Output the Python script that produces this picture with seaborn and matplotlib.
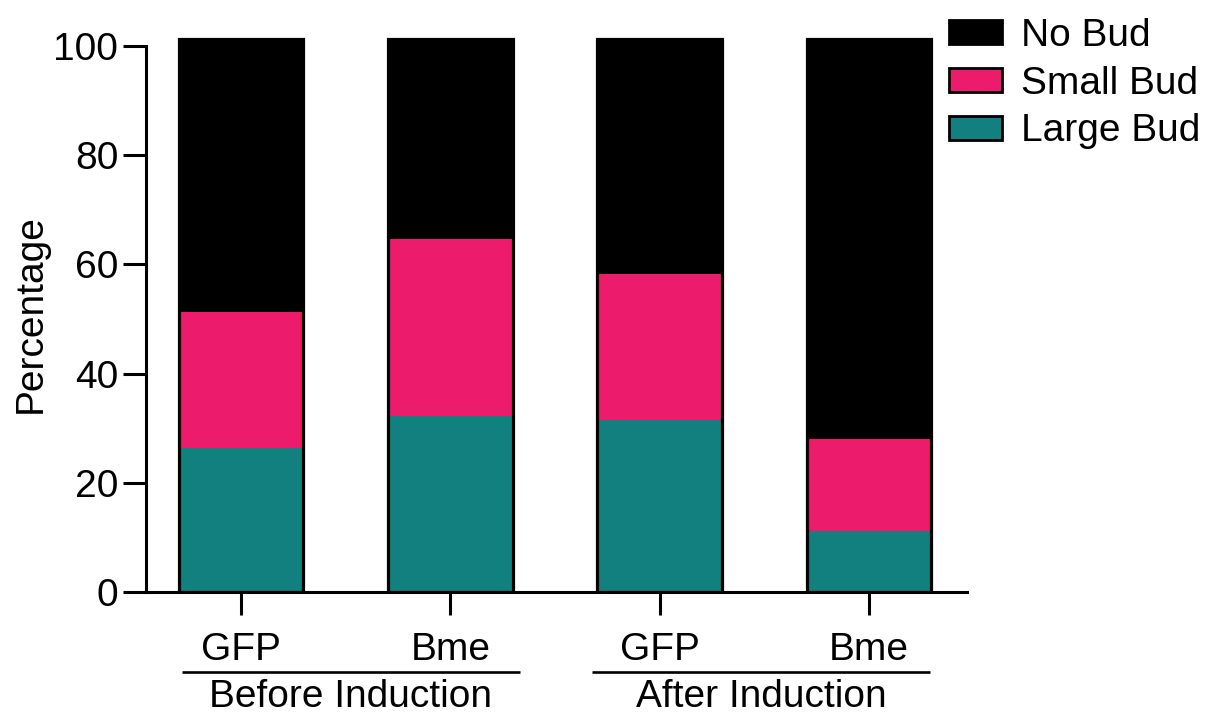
import matplotlib
matplotlib.use("Agg")
import matplotlib.pyplot as plt
from matplotlib.patches import Patch
import seaborn as sns
import pandas as pd
import numpy as np

# ---- data ----
conditions = ["Before GFP", "Before Bme", "After GFP", "After Bme"]
tick_labels = ["GFP", "Bme", "GFP", "Bme"]
groups = ["Before Induction", "After Induction"]
large_bud = [26.4, 32.2, 31.5, 11.1]
small_bud = [24.9, 32.5, 26.7, 16.9]
no_bud = [50.0, 36.6, 43.1, 73.3]
series_names = ["No Bud", "Small Bud", "Large Bud"]
colors = {"No Bud": "#000000", "Small Bud": "#EC1B6B", "Large Bud": "#11807F"}

sns.set_style("ticks")
plt.rcParams["font.family"] = ["Liberation Sans", "DejaVu Sans"]
plt.rcParams["text.color"] = "black"
plt.rcParams["axes.labelcolor"] = "black"
plt.rcParams["xtick.color"] = "black"
plt.rcParams["ytick.color"] = "black"
plt.rcParams["axes.edgecolor"] = "black"
FS = 28

df = pd.DataFrame({"condition": conditions, "large": large_bud,
                   "small": small_bud, "no": no_bud})
df["cum_small"] = df["large"] + df["small"]
df["total"] = df["cum_small"] + df["no"]

fig = plt.figure(figsize=(12.06, 7.17), dpi=100)
fig.subplots_adjust(left=146/1206, right=967/1206, bottom=1-592/717, top=1-35/717)
ax = fig.add_subplot(111)

W = 0.595
common = dict(x="condition", order=conditions, width=W, errorbar=None,
              saturation=1, ax=ax)
sns.barplot(data=df, y="total", color=colors["No Bud"], linewidth=0, **common)
sns.barplot(data=df, y="cum_small", color=colors["Small Bud"], linewidth=0, **common)
sns.barplot(data=df, y="large", color=colors["Large Bud"], linewidth=0, **common)
sns.barplot(data=df, y="total", color="black", fill=False, linewidth=2.3, **common)

ax.set_ylim(0, 102)
ax.set_xlim(-0.454, 3.469)
ax.set_yticks([0, 20, 40, 60, 80, 100])
ax.set_yticklabels(["0", "20", "40", "60", "80", "100"], fontsize=FS)
ax.set_xticks(range(4))
ax.set_xticklabels(tick_labels, fontsize=FS)
ax.set_xlabel("")
ax.set_ylabel("Percentage", fontsize=FS, labelpad=3, color="black")
ax.spines["top"].set_visible(False)
ax.spines["right"].set_visible(False)
ax.spines["left"].set_bounds(0, 100)
for s in ("left", "bottom"):
    ax.spines[s].set_linewidth(2.2)
    ax.spines[s].set_color("black")
ax.tick_params(axis="y", length=16.5, width=2.2, pad=3.5, colors="black")
ax.tick_params(axis="x", length=16.5, width=2.2, pad=12, colors="black")

# group annotations
trans = ax.get_xaxis_transform()
group_spans = [(-0.282, 1.333), (1.677, 3.292)]
for name, (x0, x1) in zip(groups, group_spans):
    ax.plot([x0, x1], [-0.1436, -0.1436], transform=trans, color="black",
            lw=1.9, clip_on=False, solid_capstyle="butt")
    ax.text((x0 + x1) / 2, -0.207, name, transform=trans, ha="center",
            va="baseline", fontsize=FS, clip_on=False, color="black")

handles = [Patch(facecolor=colors[n], edgecolor="black", linewidth=2.0, label=n)
           for n in series_names]
fig.legend(handles=handles, loc="upper left", bbox_to_anchor=(0.787, 1 - 18/717),
           frameon=False, fontsize=FS, handlelength=1.36, handleheight=0.57,
           handletextpad=0.5, labelspacing=0.3, borderpad=0, borderaxespad=0,
           labelcolor="black")

fig.savefig("out.png", dpi=100)
